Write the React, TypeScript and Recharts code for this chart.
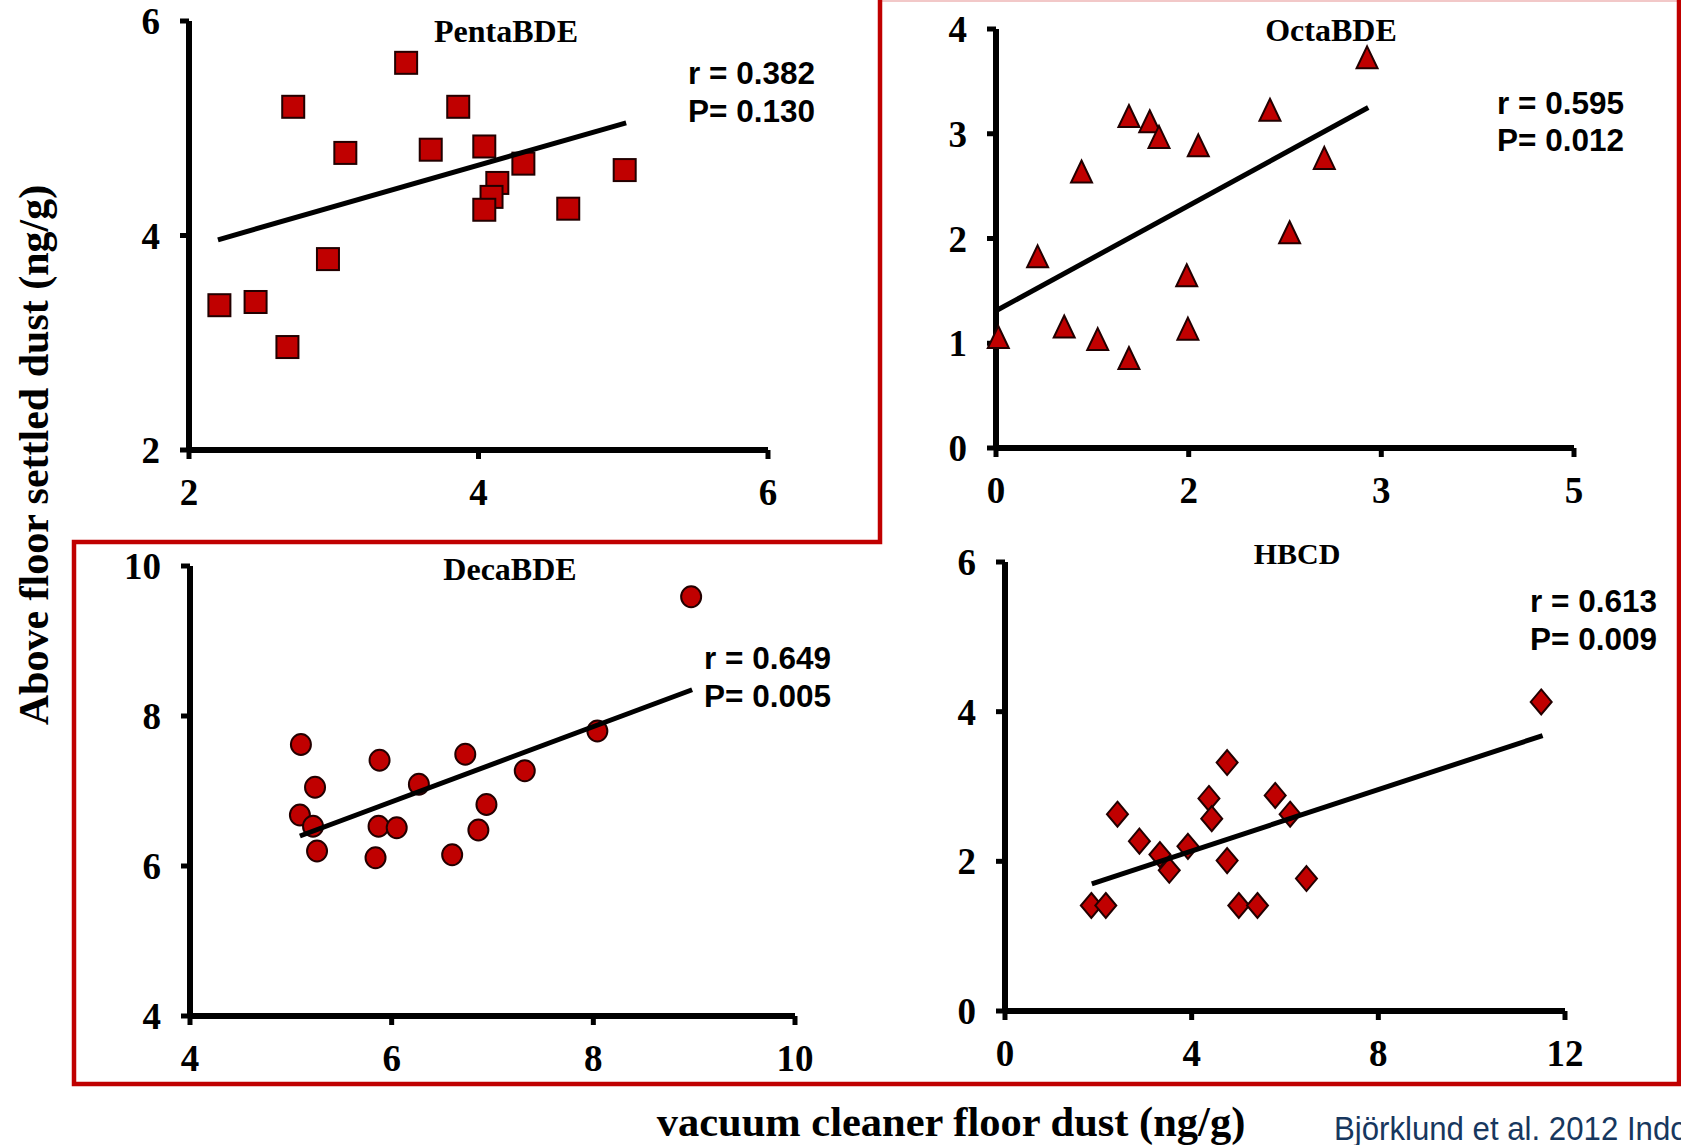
import { ScatterChart, Scatter, XAxis, YAxis } from 'recharts';

// PentaBDE
const pentaPoints = [
  { x: 2.21, y: 3.35 }, { x: 2.46, y: 3.38 }, { x: 2.68, y: 2.96 }, { x: 2.72, y: 5.2 },
  { x: 2.96, y: 3.78 }, { x: 3.08, y: 4.77 }, { x: 3.5, y: 5.61 }, { x: 3.67, y: 4.8 },
  { x: 3.86, y: 5.2 }, { x: 4.04, y: 4.83 }, { x: 4.13, y: 4.49 }, { x: 4.09, y: 4.36 },
  { x: 4.04, y: 4.24 }, { x: 4.31, y: 4.67 }, { x: 4.62, y: 4.25 }, { x: 5.01, y: 4.61 },
];
const pentaFit = [{ x: 2.2, y: 3.96 }, { x: 5.02, y: 5.05 }];
const pentaXTicks = [2, 4, 6];
const pentaYTicks = [2, 4, 6];

// OctaBDE
const octaPoints = [
  { x: 0.02, y: 1.05 }, { x: 0.36, y: 1.82 }, { x: 0.59, y: 1.15 }, { x: 0.74, y: 2.63 },
  { x: 0.88, y: 1.03 }, { x: 1.15, y: 3.16 }, { x: 1.15, y: 0.85 }, { x: 1.33, y: 3.11 },
  { x: 1.41, y: 2.96 }, { x: 1.65, y: 1.64 }, { x: 1.66, y: 1.13 }, { x: 1.75, y: 2.88 },
  { x: 2.37, y: 3.22 }, { x: 2.54, y: 2.05 }, { x: 2.84, y: 2.76 }, { x: 3.21, y: 3.72 },
];
const octaFit = [{ x: 0, y: 1.31 }, { x: 3.22, y: 3.25 }];
const octaXTicks = [0, 1.667, 3.333, 5];
const octaXTickLabels = ['0', '2', '3', '5'];
const octaYTicks = [0, 1, 2, 3, 4];

// DecaBDE
const decaPoints = [
  { x: 5.1, y: 7.62 }, { x: 5.24, y: 7.05 }, { x: 5.09, y: 6.68 }, { x: 5.22, y: 6.53 },
  { x: 5.26, y: 6.2 }, { x: 5.88, y: 7.41 }, { x: 5.87, y: 6.53 }, { x: 5.84, y: 6.11 },
  { x: 6.05, y: 6.51 }, { x: 6.27, y: 7.09 }, { x: 6.6, y: 6.15 }, { x: 6.73, y: 7.49 },
  { x: 6.86, y: 6.48 }, { x: 6.94, y: 6.82 }, { x: 7.32, y: 7.27 }, { x: 8.04, y: 7.8 },
  { x: 8.97, y: 9.59 },
];
const decaFit = [{ x: 5.09, y: 6.4 }, { x: 8.98, y: 8.35 }];
const decaXTicks = [4, 6, 8, 10];
const decaYTicks = [4, 6, 8, 10];

// HBCD
const hbcdPoints = [
  { x: 1.85, y: 1.41 }, { x: 2.16, y: 1.41 }, { x: 2.41, y: 2.63 }, { x: 2.88, y: 2.27 },
  { x: 3.32, y: 2.09 }, { x: 3.52, y: 1.88 }, { x: 3.92, y: 2.2 }, { x: 4.37, y: 2.84 },
  { x: 4.43, y: 2.57 }, { x: 4.76, y: 3.32 }, { x: 4.76, y: 2.01 }, { x: 5.01, y: 1.41 },
  { x: 5.41, y: 1.41 }, { x: 5.79, y: 2.88 }, { x: 6.11, y: 2.63 }, { x: 6.46, y: 1.77 },
  { x: 11.49, y: 4.13 },
];
const hbcdFit = [{ x: 1.86, y: 1.7 }, { x: 11.52, y: 3.68 }];
const hbcdXTicks = [0, 4, 8, 12];
const hbcdYTicks = [0, 2, 4, 6];

const RED = '#C00000';
const SERIF = '"Liberation Serif", "Times New Roman", serif';
const SANS = '"Liberation Sans", Arial, sans-serif';

const tickStyle = { fill: '#000', fontSize: 37, fontWeight: 700, fontFamily: SERIF };
const axisLine = { stroke: '#000', strokeWidth: 6 };
const tickLine = { stroke: '#000', strokeWidth: 5 };

const Square = (p: any) => (
  <rect x={p.cx - 11} y={p.cy - 11} width={22} height={22} fill={RED} stroke="#200" strokeWidth={2} />
);
const Triangle = (p: any) => (
  <path d={`M${p.cx},${p.cy - 12} L${p.cx + 10.5},${p.cy + 10} L${p.cx - 10.5},${p.cy + 10} Z`}
    fill={RED} stroke="#200" strokeWidth={2} strokeLinejoin="miter" />
);
const Dot = (p: any) => (
  <ellipse cx={p.cx} cy={p.cy} rx={10} ry={10.5} fill={RED} stroke="#200" strokeWidth={2} />
);
const Diamond = (p: any) => (
  <path d={`M${p.cx},${p.cy - 12.5} L${p.cx + 10.5},${p.cy} L${p.cx},${p.cy + 12.5} L${p.cx - 10.5},${p.cy} Z`}
    fill={RED} stroke="#200" strokeWidth={2} />
);

type Box = { l: number; t: number; r: number; b: number };

function Panel({ box, points, fit, xDomain, xTicks, xLabels, yDomain, yTicks, shape }: any) {
  const yw = 90, mt = 20, mr = 30, xh = 70;
  const b = box as Box;
  const width = b.r - b.l + yw + mr;
  const height = b.b - b.t + mt + xh;
  return (
    <div style={{ position: 'absolute', left: b.l - yw, top: b.t - mt }}>
      <ScatterChart width={width} height={height} margin={{ top: mt, right: mr, bottom: 0, left: 0 }}>
        <XAxis
          type="number"
          dataKey="x"
          domain={xDomain}
          ticks={xTicks}
          interval={0}
          height={xh}
          axisLine={axisLine}
          tickLine={tickLine}
          tickSize={9}
          tickMargin={20}
          tick={tickStyle}
          tickFormatter={xLabels ? (_v: number, i: number) => xLabels[i] : undefined}
        />
        <YAxis
          type="number"
          dataKey="y"
          domain={yDomain}
          ticks={yTicks}
          interval={0}
          width={yw}
          axisLine={axisLine}
          tickLine={tickLine}
          tickSize={9}
          tickMargin={20}
          tick={tickStyle}
        />
        <Scatter data={points} shape={shape} isAnimationActive={false} />
        <Scatter
          data={fit}
          line={{ stroke: '#000', strokeWidth: 5 }}
          shape={() => <g />}
          isAnimationActive={false}
        />
      </ScatterChart>
    </div>
  );
}

export default function App() {
  return (
    <div style={{ position: 'absolute', left: 0, top: 0, width: 1681, height: 1145, background: '#fff', overflow: 'hidden' }}>
      <Panel box={{ l: 189, t: 21, r: 768, b: 450 }} points={pentaPoints} fit={pentaFit}
        xDomain={[2, 6]} xTicks={pentaXTicks} yDomain={[2, 6]} yTicks={pentaYTicks} shape={Square} />
      <Panel box={{ l: 996, t: 29, r: 1574, b: 448 }} points={octaPoints} fit={octaFit}
        xDomain={[0, 5]} xTicks={octaXTicks} xLabels={octaXTickLabels} yDomain={[0, 4]} yTicks={octaYTicks} shape={Triangle} />
      <Panel box={{ l: 190, t: 566, r: 795, b: 1016 }} points={decaPoints} fit={decaFit}
        xDomain={[4, 10]} xTicks={decaXTicks} yDomain={[4, 10]} yTicks={decaYTicks} shape={Dot} />
      <Panel box={{ l: 1005, t: 562, r: 1565, b: 1011 }} points={hbcdPoints} fit={hbcdFit}
        xDomain={[0, 12]} xTicks={hbcdXTicks} yDomain={[0, 6]} yTicks={hbcdYTicks} shape={Diamond} />

      <svg width={1681} height={1145} style={{ position: 'absolute', left: 0, top: 0, pointerEvents: 'none' }}>
        <line x1={880} y1={1} x2={1681} y2={1} stroke="#f2c8c8" strokeWidth={2} />
        <path d="M880,0 L880,542 L74,542 L74,1084 L1679,1084 L1679,0" fill="none" stroke={RED} strokeWidth={4.5} />

        <g fontFamily={SERIF} fontWeight={700} fill="#000" textAnchor="middle">
          <text x={506} y={42} fontSize={32}>PentaBDE</text>
          <text x={1331} y={41} fontSize={32}>OctaBDE</text>
          <text x={510} y={580} fontSize={32}>DecaBDE</text>
          <text x={1297} y={564} fontSize={30}>HBCD</text>
          <text x={951} y={1136} fontSize={42.5}>vacuum cleaner floor dust (ng/g)</text>
          <text transform="translate(48,455) rotate(-90)" fontSize={42}>Above floor settled dust (ng/g)</text>
        </g>

        <g fontFamily={SANS} fontWeight={700} fill="#000" fontSize={31.5}>
          <text x={688} y={84}>r = 0.382</text>
          <text x={688} y={122}>P= 0.130</text>
          <text x={1497} y={114}>r = 0.595</text>
          <text x={1497} y={151}>P= 0.012</text>
          <text x={704} y={669}>r = 0.649</text>
          <text x={704} y={707}>P= 0.005</text>
          <text x={1530} y={612}>r = 0.613</text>
          <text x={1530} y={650}>P= 0.009</text>
        </g>

        <text transform="translate(1334,1140) scale(0.945,1)" fontFamily={SANS} fontSize={33} fill="#17375E">Björklund et al. 2012 Indoor Air</text>
      </svg>
    </div>
  );
}
